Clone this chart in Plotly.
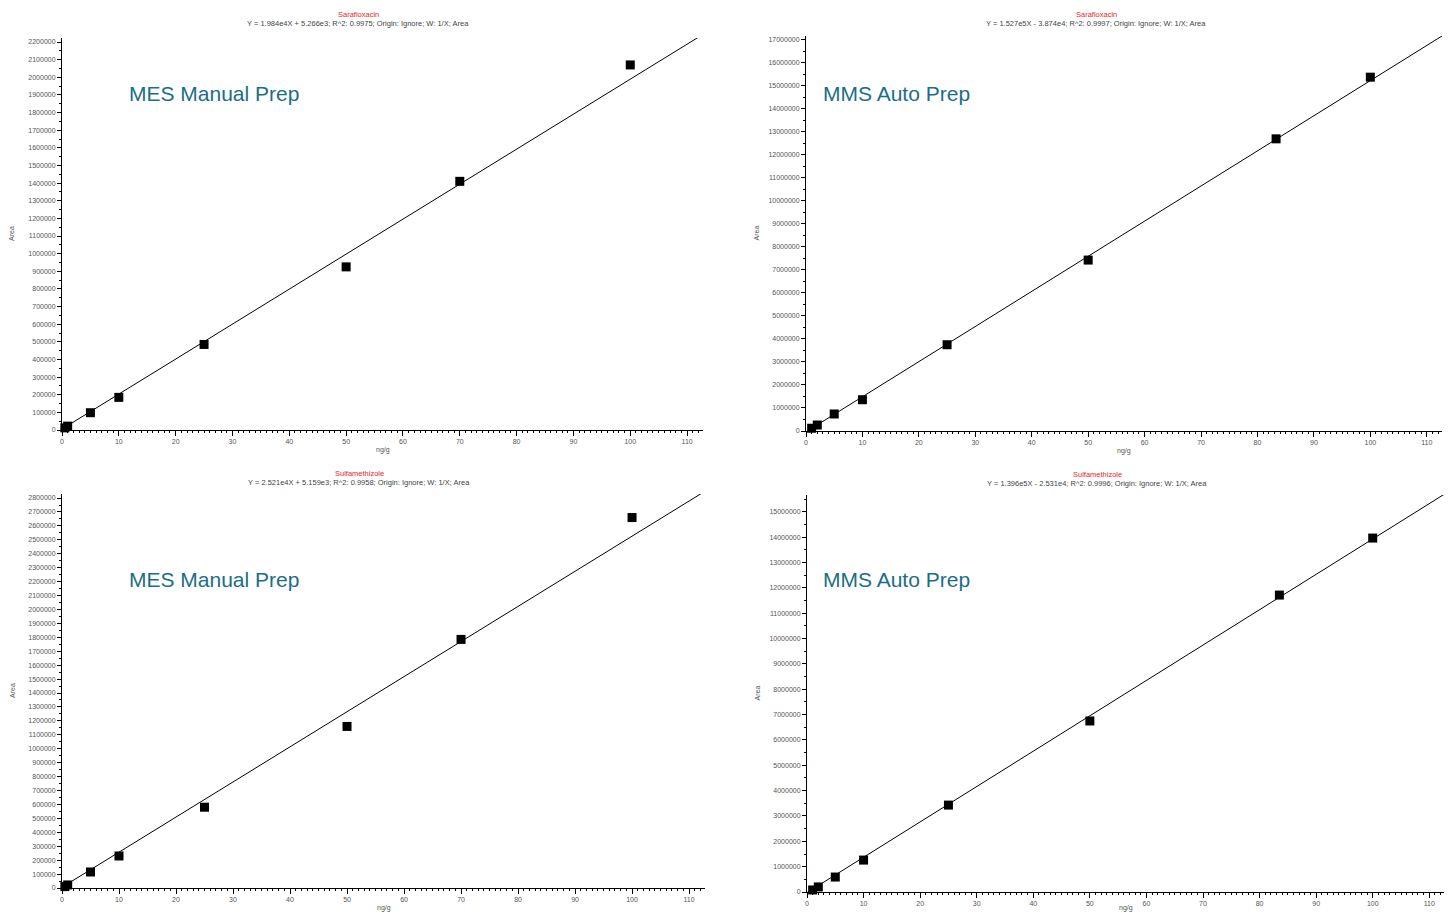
import plotly.graph_objects as go

W, H = 1448, 913

# ---- data ----
p1_x = [0.5, 1, 5, 10, 25, 50, 70, 100]
p1_y = [12000, 22000, 98000, 185000, 485000, 925000, 1410000, 2070000]
p1_slope, p1_int = 1.984e4, 5.266e3

p2_x = [1, 2, 5, 10, 25, 50, 83.3, 100]
p2_y = [120000, 260000, 740000, 1360000, 3750000, 7430000, 12700000, 15380000]
p2_slope, p2_int = 1.527e5, -3.874e4

p3_x = [0.5, 1, 5, 10, 25, 50, 70, 100]
p3_y = [10000, 22000, 115000, 230000, 580000, 1160000, 1785000, 2660000]
p3_slope, p3_int = 2.521e4, 5.159e3

p4_x = [1, 2, 5, 10, 25, 50, 83.5, 100]
p4_y = [80000, 200000, 590000, 1260000, 3430000, 6750000, 11720000, 13970000]
p4_slope, p4_int = 1.396e5, -2.531e4

compounds = ["Sarafloxacin", "Sarafloxacin", "Sulfamethizole", "Sulfamethizole"]
equations = [
    "Y = 1.984e4X + 5.266e3; R^2: 0.9975; Origin: Ignore; W: 1/X; Area",
    "Y = 1.527e5X - 3.874e4; R^2: 0.9997; Origin: Ignore; W: 1/X; Area",
    "Y = 2.521e4X + 5.159e3; R^2: 0.9958; Origin: Ignore; W: 1/X; Area",
    "Y = 1.396e5X - 2.531e4; R^2: 0.9996; Origin: Ignore; W: 1/X; Area",
]
labels = ["MES Manual Prep", "MMS Auto Prep", "MES Manual Prep", "MMS Auto Prep"]
x_title = "ng/g"
y_title = "Area"

# ---- layout geometry (pixels) ----
panels = [
    dict(x=p1_x, y=p1_y, m=p1_slope, b=p1_int, x0=62, x1=703, xmax=112.8, yb=430, yt=38, ymax=2.2227e6,
         dt=100000, tcx=358, tcy=14, lx=127, ly=94),
    dict(x=p2_x, y=p2_y, m=p2_slope, b=p2_int, x0=806, x1=1442, xmax=112.7, yb=431, yt=36, ymax=17.17e6,
         dt=1000000, tcx=1096, tcy=14, lx=821, ly=94),
    dict(x=p3_x, y=p3_y, m=p3_slope, b=p3_int, x0=62, x1=705, xmax=112.8, yb=888, yt=494, ymax=2.829e6,
         dt=100000, tcx=359, tcy=473, lx=127, ly=579),
    dict(x=p4_x, y=p4_y, m=p4_slope, b=p4_int, x0=807, x1=1444, xmax=112.6, yb=892, yt=495, ymax=15.67e6,
         dt=1000000, tcx=1097, tcy=474, lx=821, ly=579),
]

fig = go.Figure()
annotations = []
FONT = "Liberation Sans, Arial"
tick_font = dict(family=FONT, size=7, color="#555555")

for i, p in enumerate(panels):
    n = "" if i == 0 else str(i + 1)
    xa, ya = "x" + n, "y" + n
    xm = p["xmax"]
    fig.add_trace(go.Scatter(x=[0, xm], y=[p["b"], p["m"] * xm + p["b"]], mode="lines",
                             line=dict(color="black", width=1), xaxis=xa, yaxis=ya,
                             showlegend=False, hoverinfo="skip"))
    fig.add_trace(go.Scatter(x=p["x"], y=p["y"], mode="markers",
                             marker=dict(symbol="square", size=9, color="black"),
                             xaxis=xa, yaxis=ya, showlegend=False, cliponaxis=False))
    xd = [p["x0"] / W, p["x1"] / W]
    yd = [1 - p["yb"] / H, 1 - p["yt"] / H]
    common = dict(showgrid=False, zeroline=False, showline=True, linecolor="black", linewidth=1,
                  ticks="outside", tickcolor="black", tickfont=tick_font, automargin=False)
    fig.update_layout(**{
        "xaxis" + n: dict(domain=xd, range=[0, xm], anchor=ya, dtick=10, tick0=0, ticklen=5,
                          minor=dict(dtick=1, ticklen=2, ticks="outside", tickcolor="black"), **common),
        "yaxis" + n: dict(domain=yd, range=[0, p["ymax"]], anchor=xa, dtick=p["dt"], tick0=0,
                          ticklen=4, tickformat="d",
                          minor=dict(dtick=p["dt"] / 2, ticklen=2, ticks="outside", tickcolor="black"),
                          **common),
    })
    cx = (p["x0"] + p["x1"]) / 2 / W
    annotations += [
        dict(text=compounds[i], x=p["tcx"] / W, y=1 - p["tcy"] / H, xref="paper", yref="paper",
             showarrow=False, font=dict(family=FONT, size=7.5, color="#e8262a"),
             xanchor="center", yanchor="middle"),
        dict(text=equations[i], x=p["tcx"] / W, y=1 - (p["tcy"] + 9) / H, xref="paper", yref="paper",
             showarrow=False, font=dict(family=FONT, size=7.5, color="#444444"),
             xanchor="center", yanchor="middle"),
        dict(text=x_title, x=cx, y=1 - min(p["yb"] + 20, H - 5) / H, xref="paper", yref="paper",
             showarrow=False, font=dict(family=FONT, size=7, color="#555555"),
             xanchor="center", yanchor="middle"),
        dict(text=y_title, x=(p["x0"] - 50) / W, y=(yd[0] + yd[1]) / 2, xref="paper", yref="paper",
             showarrow=False, textangle=-90,
             font=dict(family=FONT, size=7, color="#555555"),
             xanchor="center", yanchor="middle"),
        dict(text=labels[i], x=p["lx"] / W, y=1 - p["ly"] / H,
             xref="paper", yref="paper", showarrow=False, xanchor="left", yanchor="middle",
             font=dict(family=FONT, size=21, color="#1b6e88")),
    ]

fig.update_layout(width=W, height=H, margin=dict(l=0, r=0, t=0, b=0),
                  paper_bgcolor="white", plot_bgcolor="white", annotations=annotations)
fig.write_html("out.html", config={"displayModeBar": False},
               post_script="document.body.style.margin='0';")
